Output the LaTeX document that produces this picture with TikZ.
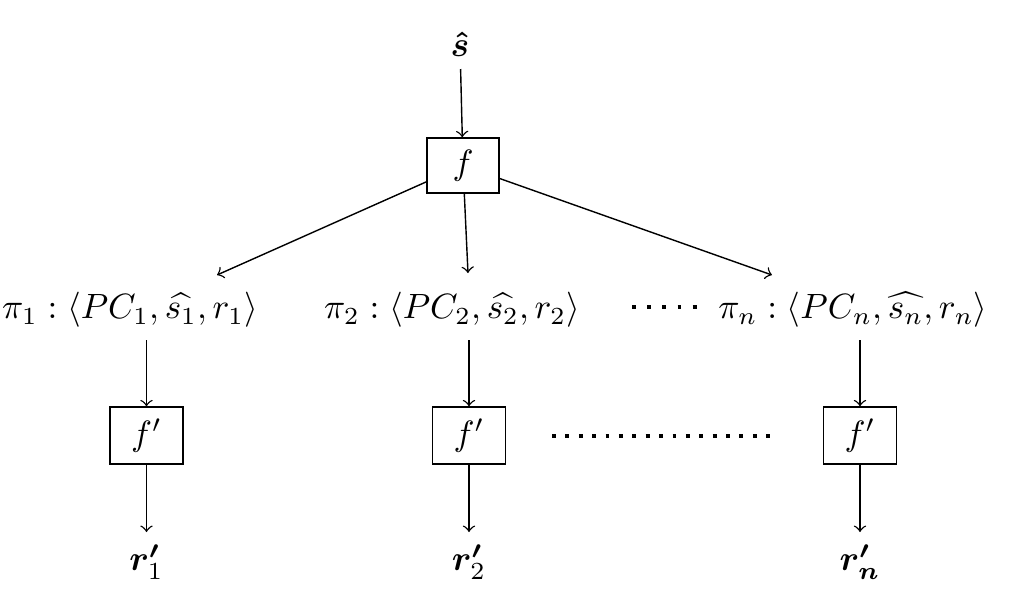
\documentclass[tikz,border=0pt]{standalone}
\usepackage{amssymb}
\usepackage{amsmath}
\usepackage{bm}
\usepackage{tikz}

\begin{document}
\begin{tikzpicture}[x=1cm,y=-1cm,
  box/.style={draw,minimum width=0.73cm,minimum height=0.57cm,inner sep=0pt},
  dotrow/.style={line width=1.1pt,dash pattern=on 1.1pt off #1}]
  \useasboundingbox (0,0) rectangle (10.18,6.08);

  \node[anchor=south] (shat) at (4.60,0.69) {$\bm{\hat{s}}$};
  \node[box,minimum width=0.72cm,minimum height=0.55cm] (f) at (4.63,1.655) {$f$};

  \coordinate (t1) at (2.17,2.75);
  \coordinate (t2) at (4.68,2.73);
  \coordinate (tn) at (7.72,2.75);

  \node (p1) at (1.30,3.10) {$\pi_1 : \langle PC_1, \widehat{s_1}, r_1 \rangle$};
  \node (p2) at (4.52,3.10) {$\pi_2 : \langle PC_2, \widehat{s_2}, r_2 \rangle$};
  \node (pn) at (8.53,3.10) {$\pi_n : \langle PC_n, \widehat{s_n}, r_n \rangle$};
  \draw[dotrow=3.22pt] (6.32,3.07) -- (6.97,3.07);

  \node[box] (b1) at (1.465,4.355) {$f'$};
  \node[box] (b2) at (4.69,4.355) {$f'$};
  \node[box] (bn) at (8.60,4.355) {$f'$};
  \draw[dotrow=2.71pt] (5.52,4.36) -- (7.70,4.36);

  \node[anchor=north] (r1) at (1.465,5.32) {$\bm{r'}_1$};
  \node[anchor=north] (r2) at (4.69,5.32) {$\bm{r'}_2$};
  \node[anchor=north] (rn) at (8.60,5.32) {$\bm{r'}_{\bm{n}}$};

  \draw[->] (shat) -- (f);
  \draw[->] (f) -- (t1);
  \draw[->] (f) -- (t2);
  \draw[->] (f) -- (tn);

  \draw[->] (p1.south -| b1) -- (b1);
  \draw[->] (p2.south -| b2) -- (b2);
  \draw[->] (pn.south -| bn) -- (bn);
  \draw[->] (b1) -- (r1);
  \draw[->] (b2) -- (r2);
  \draw[->] (bn) -- (rn);
\end{tikzpicture}
\end{document}
